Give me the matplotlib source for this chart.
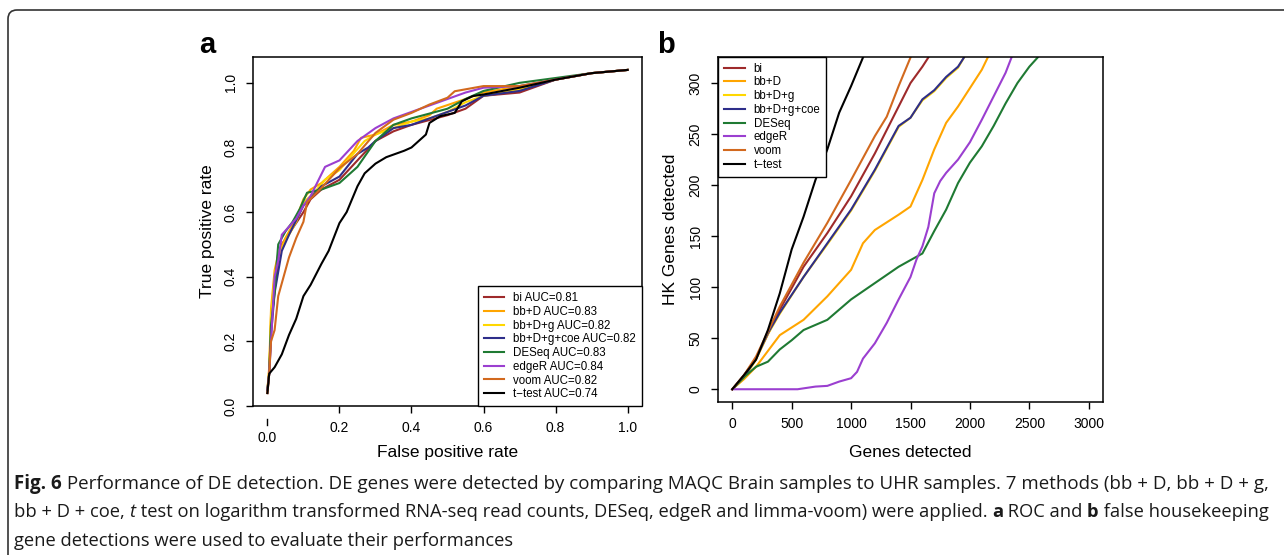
import matplotlib
matplotlib.use("Agg")
import matplotlib.pyplot as plt
from matplotlib.patches import FancyBboxPatch
from matplotlib.transforms import IdentityTransform

plt.rcParams['font.family'] = ['Liberation Sans', 'DejaVu Sans']

methods = ['bi', 'bb+D', 'bb+D+g', 'bb+D+g+coe', 'DESeq', 'edgeR', 'voom', 't\u2212test']
auc = [0.81, 0.83, 0.82, 0.82, 0.83, 0.84, 0.82, 0.74]
colors = ['#9E2A2B', '#FFA500', '#FFD700', '#2E2E8A', '#1F7A33', '#9B3FD0', '#D2691E', '#000000']

# panel a: ROC curves (false positive rate, true positive rate)
fpr_bi = [0, 0.005, 0.01, 0.02, 0.03, 0.04, 0.07, 0.10, 0.12, 0.15, 0.20, 0.25, 0.30, 0.35, 0.40, 0.50, 0.55, 0.60, 0.70, 0.80, 0.90, 1.0]
tpr_bi = [0.04, 0.10, 0.25, 0.36, 0.45, 0.50, 0.55, 0.60, 0.64, 0.67, 0.70, 0.76, 0.82, 0.85, 0.87, 0.90, 0.92, 0.96, 0.97, 1.01, 1.03, 1.04]
fpr_bbd = [0, 0.005, 0.01, 0.02, 0.03, 0.05, 0.08, 0.10, 0.12, 0.15, 0.20, 0.24, 0.26, 0.30, 0.35, 0.40, 0.45, 0.47, 0.55, 0.60, 0.70, 0.80, 0.90, 1.0]
tpr_bbd = [0.05, 0.12, 0.30, 0.42, 0.47, 0.52, 0.58, 0.64, 0.67, 0.69, 0.74, 0.79, 0.83, 0.84, 0.87, 0.88, 0.90, 0.92, 0.95, 0.97, 0.99, 1.01, 1.03, 1.04]
fpr_bbdg = [0, 0.005, 0.01, 0.02, 0.03, 0.05, 0.08, 0.10, 0.13, 0.16, 0.20, 0.23, 0.27, 0.30, 0.35, 0.40, 0.45, 0.50, 0.55, 0.60, 0.70, 0.80, 0.90, 1.0]
tpr_bbdg = [0.05, 0.11, 0.28, 0.40, 0.46, 0.51, 0.57, 0.63, 0.66, 0.70, 0.73, 0.77, 0.82, 0.84, 0.86, 0.88, 0.89, 0.91, 0.94, 0.96, 0.98, 1.01, 1.03, 1.04]
fpr_coe = [0, 0.005, 0.01, 0.02, 0.04, 0.06, 0.10, 0.15, 0.20, 0.25, 0.28, 0.30, 0.35, 0.40, 0.50, 0.55, 0.60, 0.70, 0.80, 0.90, 1.0]
tpr_coe = [0.05, 0.10, 0.22, 0.35, 0.48, 0.53, 0.62, 0.68, 0.71, 0.78, 0.80, 0.82, 0.86, 0.87, 0.91, 0.93, 0.96, 0.975, 1.01, 1.03, 1.04]
fpr_deseq = [0, 0.005, 0.01, 0.02, 0.025, 0.03, 0.05, 0.07, 0.09, 0.11, 0.15, 0.20, 0.25, 0.30, 0.35, 0.40, 0.50, 0.55, 0.60, 0.70, 0.80, 0.90, 1.0]
tpr_deseq = [0.05, 0.10, 0.25, 0.35, 0.43, 0.50, 0.54, 0.57, 0.61, 0.66, 0.67, 0.69, 0.74, 0.82, 0.87, 0.89, 0.92, 0.95, 0.975, 1.00, 1.015, 1.03, 1.04]
fpr_edger = [0, 0.005, 0.01, 0.02, 0.03, 0.04, 0.08, 0.10, 0.12, 0.16, 0.20, 0.25, 0.30, 0.35, 0.40, 0.45, 0.50, 0.55, 0.60, 0.70, 0.80, 0.90, 1.0]
tpr_edger = [0.05, 0.10, 0.20, 0.40, 0.45, 0.53, 0.58, 0.62, 0.65, 0.74, 0.76, 0.82, 0.86, 0.89, 0.91, 0.93, 0.95, 0.97, 0.985, 0.99, 1.01, 1.03, 1.04]
fpr_voom = [0, 0.005, 0.01, 0.02, 0.03, 0.04, 0.06, 0.08, 0.10, 0.11, 0.15, 0.20, 0.25, 0.30, 0.35, 0.40, 0.45, 0.50, 0.52, 0.60, 0.70, 0.80, 0.90, 1.0]
tpr_voom = [0.04, 0.10, 0.20, 0.235, 0.34, 0.38, 0.46, 0.52, 0.57, 0.63, 0.675, 0.736, 0.78, 0.845, 0.886, 0.907, 0.933, 0.954, 0.974, 0.99, 0.99, 1.01, 1.03, 1.04]
fpr_ttest = [0, 0.005, 0.02, 0.04, 0.06, 0.08, 0.10, 0.12, 0.15, 0.17, 0.20, 0.22, 0.25, 0.27, 0.30, 0.33, 0.38, 0.40, 0.44, 0.45, 0.48, 0.52, 0.54, 0.57, 0.60, 0.70, 0.80, 0.90, 1.0]
tpr_ttest = [0.04, 0.10, 0.12, 0.16, 0.22, 0.27, 0.34, 0.375, 0.44, 0.48, 0.566, 0.60, 0.68, 0.72, 0.75, 0.77, 0.79, 0.80, 0.84, 0.876, 0.897, 0.907, 0.943, 0.959, 0.964, 0.985, 1.01, 1.03, 1.04]

# panel b: genes detected vs false housekeeping genes detected
gd_bi = [0, 100, 200, 400, 600, 800, 1000, 1200, 1400, 1500, 1600, 1650, 1670]
hk_bi = [0, 14, 30, 78, 120, 153, 189, 231, 277, 300, 316, 325, 330]
gd_bbd = [0, 100, 200, 400, 600, 800, 1000, 1100, 1200, 1400, 1500, 1600, 1700, 1800, 1900, 2000, 2100, 2150, 2170]
hk_bbd = [0, 10, 22, 53, 68, 91, 117, 143, 156, 171, 179, 205, 235, 261, 277, 295, 313, 325, 330]
gd_bbdg = [0, 100, 200, 300, 400, 600, 800, 1000, 1200, 1400, 1500, 1600, 1700, 1800, 1900, 1950, 1970]
hk_bbdg = [0, 11, 29, 54, 74, 110, 142, 175, 214, 257, 266, 283, 292, 305, 315, 325, 330]
gd_coe = [0, 100, 200, 300, 400, 600, 800, 1000, 1200, 1400, 1500, 1600, 1700, 1800, 1900, 1950, 1970]
hk_coe = [0, 12, 30, 55, 75, 110, 143, 176, 215, 258, 266, 284, 293, 306, 316, 325, 330]
gd_deseq = [0, 100, 200, 300, 400, 500, 600, 800, 1000, 1200, 1400, 1600, 1700, 1800, 1900, 2000, 2100, 2200, 2300, 2400, 2500, 2570, 2590]
hk_deseq = [0, 12, 22, 27, 39, 48, 58, 68, 88, 104, 120, 133, 155, 176, 202, 222, 238, 258, 280, 300, 316, 325, 330]
gd_edger = [0, 550, 700, 800, 900, 1000, 1050, 1100, 1200, 1300, 1400, 1500, 1550, 1600, 1650, 1700, 1750, 1800, 1900, 2000, 2100, 2200, 2300, 2350, 2370]
hk_edger = [0, 0, 2.6, 3.3, 7.5, 10.8, 17, 30, 45, 65, 88, 110, 127, 140, 159, 192, 204, 212, 225, 242, 264, 287, 310, 325, 330]
gd_voom = [0, 100, 200, 400, 600, 800, 1000, 1200, 1300, 1400, 1500, 1520]
hk_voom = [0, 14, 32, 81, 124, 163, 205, 248, 267, 297, 325, 330]
gd_ttest = [0, 100, 200, 300, 400, 500, 600, 700, 800, 900, 1000, 1100, 1120]
hk_ttest = [0, 14, 29, 58, 94, 137, 169, 205, 235, 271, 297, 325, 330]

roc_x = [fpr_bi, fpr_bbd, fpr_bbdg, fpr_coe, fpr_deseq, fpr_edger, fpr_voom, fpr_ttest]
roc_y = [tpr_bi, tpr_bbd, tpr_bbdg, tpr_coe, tpr_deseq, tpr_edger, tpr_voom, tpr_ttest]
hk_x = [gd_bi, gd_bbd, gd_bbdg, gd_coe, gd_deseq, gd_edger, gd_voom, gd_ttest]
hk_y = [hk_bi, hk_bbd, hk_bbdg, hk_coe, hk_deseq, hk_edger, hk_voom, hk_ttest]

W, H = 1284, 555
fig = plt.figure(figsize=(W / 100, H / 100), dpi=100)

def px_axes(left, top, right, bottom):
    return fig.add_axes([left / W, 1 - bottom / H, (right - left) / W, (bottom - top) / H])

def style(ax):
    for s in ax.spines.values():
        s.set_linewidth(1.1)
    ax.tick_params(direction='out', length=5, width=1.0, labelsize=10, pad=6)
    ax.tick_params(axis='y', labelrotation=90)
    for lab in ax.get_yticklabels():
        lab.set_va('center')

lw = 1.5
leg_kw = dict(borderaxespad=0, fontsize=8.3, fancybox=False, framealpha=1, edgecolor='black',
              handlelength=1.8, handletextpad=0.8, labelspacing=0.15, borderpad=0.5)

# ---- panel a ----
ax1 = px_axes(253, 57, 642, 406)
for xs, ys, c in zip(roc_x, roc_y, colors):
    ax1.plot(xs, ys, color=c, lw=lw)
ax1.set_xlim(-0.04, 1.04)
ax1.set_ylim(0.0, 1.08)
ax1.set_xticks([0.2, 0.4, 0.6, 0.8, 1.0])
ax1.set_xticklabels(['0.2', '0.4', '0.6', '0.8', '1.0'])
ax1.set_yticks([0.0, 0.2, 0.4, 0.6, 0.8, 1.0])
ax1.set_yticklabels(['0.0', '0.2', '0.4', '0.6', '0.8', '1.0'])
style(ax1)
# the 0.0 tick of the x axis sits lower than the others
tr = ax1.get_xaxis_transform()
ax1.plot([0, 0], [-13 / 349, -19 / 349], color='black', lw=1.0, transform=tr, clip_on=False)
ax1.text(0, -32 / 349, '0.0', transform=tr, ha='center', va='center', fontsize=10)
ax1.set_xlabel('False positive rate', fontsize=12.5)
ax1.set_ylabel('True positive rate', fontsize=12.5)
ax1.xaxis.set_label_coords(0.5, -0.112)
ax1.yaxis.set_label_coords(-0.098, 0.5)
leg1 = ax1.legend([plt.Line2D([], [], color=c, lw=lw) for c in colors],
                  ['%s AUC=%.2f' % (m, a) for m, a in zip(methods, auc)],
                  loc='lower right', bbox_to_anchor=(1, 0), **leg_kw)
leg1.get_frame().set_linewidth(1.0)
fig.text(207 / W, 1 - 45 / H, 'a', fontsize=21, fontweight='bold', ha='center', va='center')

# ---- panel b ----
ax2 = px_axes(718, 57, 1103, 402)
for xs, ys, c in zip(hk_x, hk_y, colors):
    ax2.plot(xs, ys, color=c, lw=lw)
ax2.set_xlim(-120, 3120)
ax2.set_ylim(-12.5, 325.5)
ax2.set_xticks([0, 500, 1000, 1500, 2000, 2500, 3000])
ax2.set_yticks([0, 50, 100, 150, 200, 250, 300])
style(ax2)
ax2.set_xlabel('Genes detected', fontsize=12.5)
ax2.set_ylabel('HK Genes detected', fontsize=12.5)
ax2.xaxis.set_label_coords(0.5, -0.125)
ax2.yaxis.set_label_coords(-0.104, 0.5)
leg2 = ax2.legend([plt.Line2D([], [], color=c, lw=lw) for c in colors], methods,
                  loc='upper left', bbox_to_anchor=(0, 1), **leg_kw)
leg2.get_frame().set_linewidth(1.0)
fig.text(666 / W, 1 - 45 / H, 'b', fontsize=21, fontweight='bold', ha='center', va='center')

# ---- rounded frame of the figure box ----
frame = FancyBboxPatch((8, -40), 1320, H - 10 + 40, boxstyle='round,pad=0,rounding_size=9',
                       transform=IdentityTransform(), facecolor='none', edgecolor='#333333', lw=1.2)
fig.add_artist(frame)

# ---- caption ----
cap_font = ['Open Sans', 'DejaVu Sans']
caption = [
    [('Fig. 6', 'bold', 'normal'),
     (' Performance of DE detection. DE genes were detected by comparing MAQC Brain samples to UHR samples. 7 methods (bb + D, bb + D + g,', 'normal', 'normal')],
    [('bb + D + coe, ', 'normal', 'normal'), ('t', 'normal', 'italic'),
     (' test on logarithm transformed RNA-seq read counts, DESeq, edgeR and limma-voom) were applied. ', 'normal', 'normal'),
     ('a', 'bold', 'normal'), (' ROC and ', 'normal', 'normal'), ('b', 'bold', 'normal'),
     (' false housekeeping', 'normal', 'normal')],
    [('gene detections were used to evaluate their performances', 'normal', 'normal')],
]
baselines = [489, 517, 546]
cap_left, cap_right = 14, 1262
renderer = fig.canvas.get_renderer()

def put_line(line, yb, size):
    x = cap_left
    for txt, weight, st in line:
        t = fig.text(x / W, 1 - yb / H, txt, family=cap_font, fontsize=size,
                     fontweight=weight, fontstyle=st, ha='left', va='baseline', color='#1a1a1a')
        x += t.get_window_extent(renderer).width
    return x

sizes = []
for i, (line, yb) in enumerate(zip(caption, baselines)):
    if i < 2:
        # first two lines are justified to the full caption width
        probe = fig.text(0, 0, '')
        n0 = len(fig.texts)
        end = put_line(line, yb, 13.0)
        for t in fig.texts[n0 - 1:]:
            t.remove()
        size = 13.0 * (cap_right - cap_left) / (end - cap_left)
        sizes.append(size)
    else:
        size = min(sizes)
    put_line(line, yb, size)

fig.savefig('out.png', dpi=100)
